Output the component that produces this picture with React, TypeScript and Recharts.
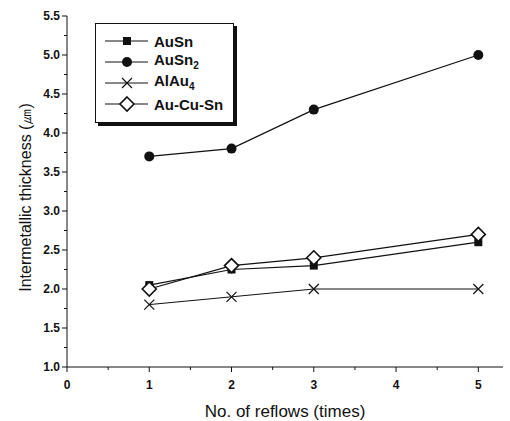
import { LineChart, Line, XAxis, YAxis } from 'recharts';

const reflows = [1, 2, 3, 5];
const auSn = [2.05, 2.25, 2.3, 2.6];
const auSn2 = [3.7, 3.8, 4.3, 5.0];
const alAu4 = [1.8, 1.9, 2.0, 2.0];
const auCuSn = [2.0, 2.3, 2.4, 2.7];

const xTicks = [0, 0.5, 1, 1.5, 2, 2.5, 3, 3.5, 4, 4.5, 5];
const yTicks = [1, 1.25, 1.5, 1.75, 2, 2.25, 2.5, 2.75, 3, 3.25, 3.5, 3.75, 4, 4.25, 4.5, 4.75, 5, 5.25, 5.5];

const data = reflows.map((x, i) => ({ x, auSn: auSn[i], auSn2: auSn2[i], alAu4: alAu4[i], auCuSn: auCuSn[i] }));

const FONT = '"Liberation Sans", Arial, sans-serif';

const Square = ({ cx, cy }: any) => <rect x={cx - 4} y={cy - 4} width={8} height={8} fill="#111" />;
const Dot = ({ cx, cy }: any) => <circle cx={cx} cy={cy} r={5} fill="#111" />;
const Cross = ({ cx, cy }: any) => (
  <path d={`M${cx - 5},${cy - 5}L${cx + 5},${cy + 5}M${cx - 5},${cy + 5}L${cx + 5},${cy - 5}`} stroke="#111" strokeWidth={1.2} />
);
const Diamond = ({ cx, cy }: any) => (
  <path d={`M${cx},${cy - 7}L${cx + 7},${cy}L${cx},${cy + 7}L${cx - 7},${cy}Z`} fill="#fff" stroke="#111" strokeWidth={1.6} />
);

const XTick = ({ x, y, payload }: any) => {
  const major = Number.isInteger(payload.value);
  return (
    <g>
      <line x1={x} y1={y - 8} x2={x} y2={y - 8 + (major ? 5 : 3)} stroke="#111" />
      {major && (
        <text x={x} y={y + 14} textAnchor="middle" fontSize={12} fontWeight="bold" fill="#111" fontFamily={FONT}>
          {payload.value}
        </text>
      )}
    </g>
  );
};

const YTick = ({ x, y, payload }: any) => {
  const major = Math.abs(payload.value * 2 - Math.round(payload.value * 2)) < 1e-6;
  return (
    <g>
      <line x1={x + 8} y1={y} x2={x + 8 - (major ? 5 : 3)} y2={y} stroke="#111" />
      {major && (
        <text x={x + 1} y={y + 4} textAnchor="end" fontSize={12} fontWeight="bold" fill="#111" fontFamily={FONT}>
          {payload.value.toFixed(1)}
        </text>
      )}
    </g>
  );
};

const YLabel = ({ viewBox }: any) => {
  const cy = viewBox.y + viewBox.height / 2 + 6;
  return (
    <text x={25} y={cy} transform={`rotate(-90 25 ${cy})`} textAnchor="middle" dominantBaseline="central" fontSize={16} fill="#111" fontFamily={FONT}>
      Intermetallic thickness (㎛)
    </text>
  );
};

const legendRows = [
  { label: <>AuSn</>, Mark: Square },
  { label: <>AuSn<sub style={{ fontSize: 10 }}>2</sub></>, Mark: Dot },
  { label: <>AlAu<sub style={{ fontSize: 10 }}>4</sub></>, Mark: Cross },
  { label: <>Au-Cu-Sn</>, Mark: Diamond },
];

const ChartLegend = () => (
  <div
    style={{
      position: 'absolute', left: 95, top: 23, width: 137, height: 98,
      border: '1px solid #111', background: '#fff', boxShadow: '3px 3px 0 #111',
      fontFamily: FONT, fontWeight: 'bold', fontSize: 15, color: '#111',
    }}
  >
    {legendRows.map(({ label, Mark }, i) => (
      <div key={i} style={{ position: 'absolute', left: 0, top: 7 + i * 21, height: 20, display: 'flex', alignItems: 'center' }}>
        <svg width={44} height={20} style={{ marginLeft: 9 }}>
          <line x1={0} y1={10} x2={43} y2={10} stroke="#111" strokeWidth={1} />
          <Mark cx={22} cy={10} />
        </svg>
        <span style={{ marginLeft: 5, lineHeight: '15px' }}>{label}</span>
      </div>
    ))}
  </div>
);

export default function App() {
  return (
    <div style={{ position: 'absolute', left: 0, top: 0, width: 510, height: 421, background: '#fff' }}>
      <LineChart width={510} height={421} data={data} margin={{ top: 16, right: 7, left: 15, bottom: 0 }}>
        <XAxis
          dataKey="x" type="number" domain={[0, 5.3]} ticks={xTicks} interval={0}
          tick={<XTick />} tickLine={false} axisLine={{ stroke: '#111' }} height={54}
          label={{ value: 'No. of reflows (times)', position: 'insideBottom', offset: 4, fontSize: 17, fill: '#111', fontFamily: FONT }}
        />
        <YAxis
          type="number" domain={[1, 5.5]} ticks={yTicks} interval={0}
          tick={<YTick />} tickLine={false} axisLine={{ stroke: '#111' }} width={52}
          label={<YLabel />}
        />
        <Line dataKey="auSn2" stroke="#111" strokeWidth={1.2} dot={<Dot />} isAnimationActive={false} />
        <Line dataKey="auSn" stroke="#111" strokeWidth={1.2} dot={<Square />} isAnimationActive={false} />
        <Line dataKey="alAu4" stroke="#111" strokeWidth={1} dot={<Cross />} isAnimationActive={false} />
        <Line dataKey="auCuSn" stroke="#111" strokeWidth={1.2} dot={<Diamond />} isAnimationActive={false} />
      </LineChart>
      <ChartLegend />
    </div>
  );
}
